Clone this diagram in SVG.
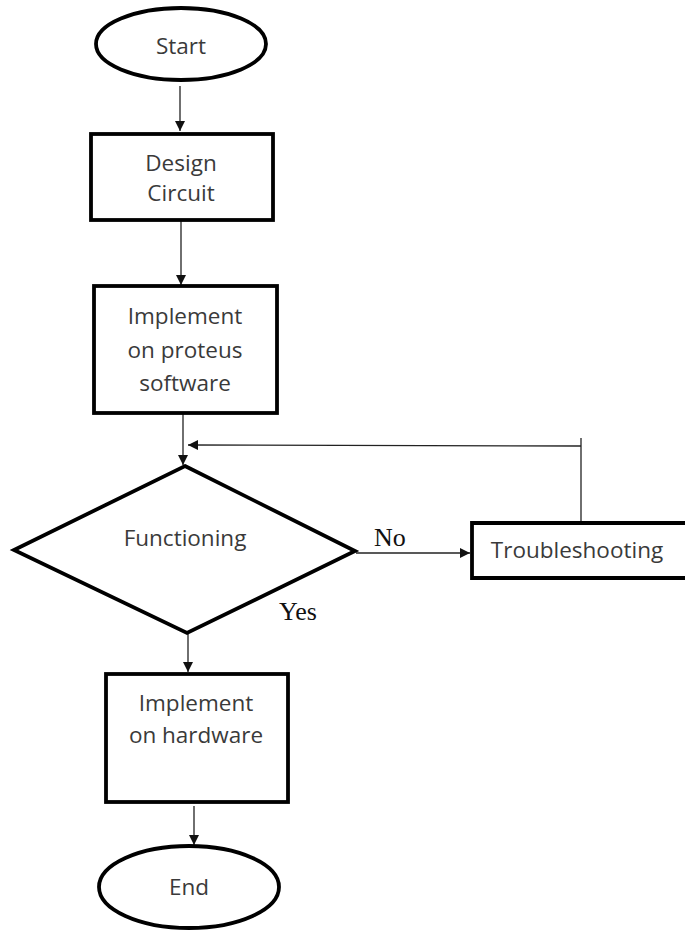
<svg xmlns="http://www.w3.org/2000/svg" width="685" height="931" viewBox="0 0 685 931">
  <style>
    .shape { fill: #ffffff; stroke: #000000; stroke-width: 3.8; }
    .label { font-family: "Open Sans", "Liberation Sans", sans-serif; font-size: 22.5px; fill: #3a3a3a; text-anchor: middle; dominant-baseline: central; }
    .serif { font-family: "Liberation Serif", "DejaVu Serif", serif; font-size: 26px; fill: #111111; }
    .flow { fill: none; stroke: #222222; stroke-width: 1.3; }
  </style>
  <defs>
    <marker id="arrow" viewBox="0 0 10 10" refX="10" refY="5" markerWidth="10" markerHeight="10" markerUnits="userSpaceOnUse" orient="auto">
      <path d="M0,0 L10,5 L0,10 Z" fill="#111111"/>
    </marker>
  </defs>

  <rect width="685" height="931" fill="#ffffff"/>

  <g id="connectors">
    <line class="flow" x1="180" y1="86" x2="180" y2="131" marker-end="url(#arrow)"/>
    <line class="flow" x1="181" y1="221" x2="181" y2="285" marker-end="url(#arrow)"/>
    <line class="flow" x1="183" y1="414" x2="183" y2="465" marker-end="url(#arrow)"/>
    <polyline class="flow" points="581,438 581,446 581,521"/>
    <line class="flow" x1="581" y1="446" x2="188" y2="445" marker-end="url(#arrow)"/>
    <line class="flow" x1="356" y1="553" x2="470" y2="553" marker-end="url(#arrow)"/>
    <line class="flow" x1="188" y1="634" x2="188" y2="672" marker-end="url(#arrow)"/>
    <line class="flow" x1="194" y1="806" x2="194" y2="845" marker-end="url(#arrow)"/>
    <text class="serif" x="374" y="546">No</text>
    <text class="serif" x="279" y="620">Yes</text>
  </g>

  <g id="start">
    <ellipse class="shape" cx="181" cy="44" rx="85" ry="36"/>
    <text class="label" x="181" y="45">Start</text>
  </g>

  <g id="design-circuit">
    <rect class="shape" x="91" y="134" width="182" height="86"/>
    <text class="label" x="181" y="162">Design</text>
    <text class="label" x="181" y="192">Circuit</text>
  </g>

  <g id="implement-proteus">
    <rect class="shape" x="94" y="286" width="183" height="127"/>
    <text class="label" x="185" y="315">Implement</text>
    <text class="label" x="185" y="349">on proteus</text>
    <text class="label" x="185" y="382">software</text>
  </g>

  <g id="functioning">
    <polygon class="shape" points="185,466 355,551 187,633 14,550"/>
    <text class="label" x="185" y="537">Functioning</text>
  </g>

  <g id="troubleshooting">
    <path d="M688,523 L472,523 L472,578 L688,578" class="shape"/>
    <text class="label" x="577" y="549">Troubleshooting</text>
  </g>

  <g id="implement-hardware">
    <rect class="shape" x="106" y="674" width="182" height="128"/>
    <text class="label" x="196" y="702">Implement</text>
    <text class="label" x="196" y="734">on hardware</text>
  </g>

  <g id="end">
    <ellipse class="shape" cx="189" cy="887" rx="90" ry="41"/>
    <text class="label" x="189" y="886">End</text>
  </g>
</svg>
